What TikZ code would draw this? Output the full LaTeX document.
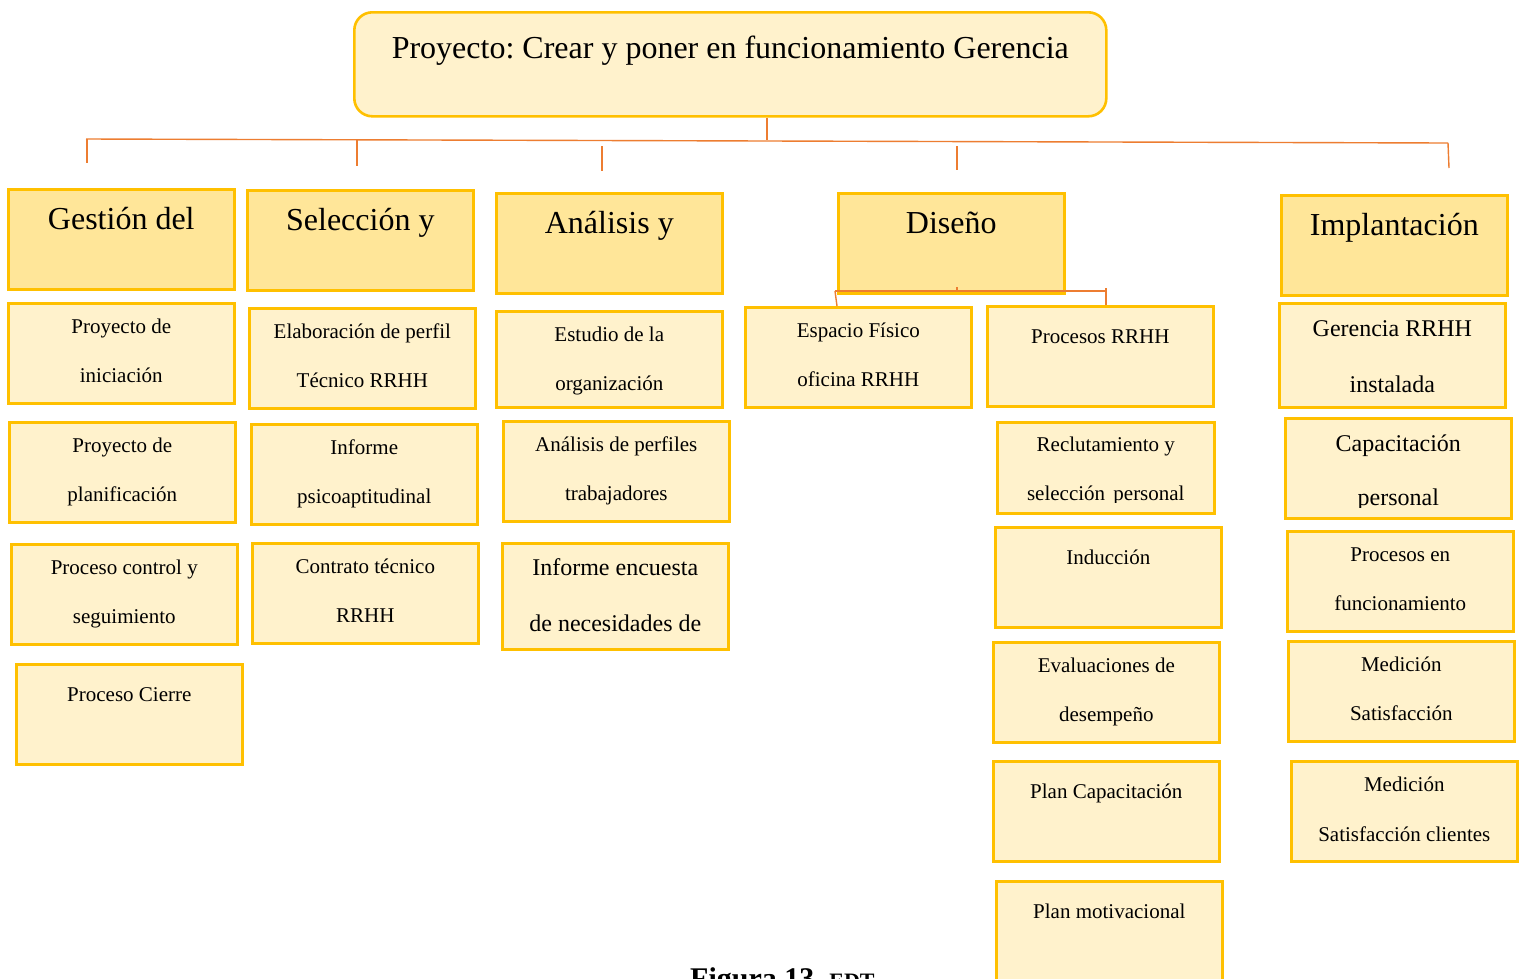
\documentclass[tikz,border=0pt]{standalone}
\usepackage{fontspec}
\setmainfont{Liberation Serif}
\frenchspacing

\definecolor{gold}{HTML}{FFC000}
\definecolor{paleyellow}{HTML}{FFF2CC}
\definecolor{headyellow}{HTML}{FFE699}
\definecolor{linkorange}{HTML}{ED7D31}

\tikzset{
  wbsbox/.style={draw=gold, line width=2.6pt, anchor=north west, inner sep=0pt},
  leafbox/.style={wbsbox, fill=paleyellow},
  headbox/.style={wbsbox, fill=headyellow, minimum width=226pt, minimum height=100pt},
  wbssmall/.style={font=\fontsize{21}{25}\selectfont, anchor=base, inner sep=0pt},
  wbslarge/.style={font=\fontsize{24}{28}\selectfont, anchor=base, inner sep=0pt},
  headtext/.style={font=\fontsize{32}{36}\selectfont, anchor=base, inner sep=0pt},
  link/.style={draw=linkorange, line width=1.4pt},
}

% two-line work package: name, (x,y), width, height, text style, line 1, shift 1, line 2, shift 2
\newcommand\wbstwo[9]{%
  \node[leafbox, minimum width=#3pt, minimum height=#4pt] (#1) at #2 {};
  \node[#5] (#1-a) at ([yshift=-#7pt]#1.north) {#6};
  \node[#5] (#1-b) at ([yshift=-#9pt]#1.north) {#8};
}
% one-line work package: name, (x,y), width, height, text
\newcommand\wbsone[5]{%
  \node[leafbox, minimum width=#3pt, minimum height=#4pt] (#1) at #2 {};
  \node[wbssmall] (#1-a) at ([yshift=-38pt]#1.north) {#5};
}
% level-one heading: name, (x,y), text
\newcommand\wbshead[3]{%
  \node[headbox] (#1) at #2 {};
  \node[headtext] (#1-t) at ([yshift=-41pt]#1.north) {#3};
}

\begin{document}
\begin{tikzpicture}[x=1pt,y=-1pt]
\clip (0,0) rectangle (1523,978);
\fill[white] (0,0) rectangle (1523,978);

% project root
\node[draw=gold, fill=paleyellow, line width=2.6pt, rounded corners=18pt,
      anchor=north west, minimum width=752pt, minimum height=104pt, inner sep=0pt]
      (root) at (353,11) {};
\node[headtext] (root-t) at ([yshift=-47pt]root.north)
      {Proyecto: Crear y poner en funcionamiento Gerencia};

% main bus
\coordinate (busM) at (767,140);
\coordinate (busL) at (86,139);
\coordinate (busR) at (1448,143);
\draw[link] (root.south -| busM) -- (busM);
\draw[link] (busL) -- (busR);
\coordinate (tA0) at (87,139);   \coordinate (tA1) at (87,163);
\coordinate (tB0) at (357,140);  \coordinate (tB1) at (357,166);
\coordinate (tC0) at (602,146);  \coordinate (tC1) at (602,171);
\coordinate (tD0) at (957,146);  \coordinate (tD1) at (957,170);
\coordinate (tE0) at (1448,143); \coordinate (tE1) at (1449,168);
\draw[link] (tA0) -- (tA1);
\draw[link] (tB0) -- (tB1);
\draw[link] (tC0) -- (tC1);
\draw[link] (tD0) -- (tD1);
\draw[link] (tE0) -- (tE1);

% level one
\wbshead{gest}{(7,188)}{Gestión del}
\wbshead{sel}{(246,189)}{Selección y}
\wbshead{ana}{(495,192)}{Análisis y}
\wbshead{dis}{(837,192)}{Diseño}
\wbshead{imp}{(1280,194)}{Implantación}

% Gestión del proyecto
\wbstwo{g1}{(7,302)}{226}{100}{wbssmall}{Proyecto de}{31}{iniciación}{80}
\wbstwo{g2}{(8,421)}{226}{100}{wbssmall}{Proyecto de}{31}{planificación}{80}
\wbstwo{g3}{(10,543)}{226}{100}{wbssmall}{Proceso control y}{31}{seguimiento}{80}
\wbsone{g4}{(15,663)}{226}{100}{Proceso Cierre}

% Selección
\wbstwo{s1}{(248,307)}{226}{100}{wbssmall}{Elaboración de perfil}{31}{Técnico RRHH}{80}
\wbstwo{s2}{(250,423)}{226}{100}{wbssmall}{Informe}{31}{psicoaptitudinal}{80}
\wbstwo{s3}{(251,542)}{226}{100}{wbssmall}{Contrato técnico}{31}{RRHH}{80}

% Análisis
\wbstwo{a1}{(495,310)}{226}{96}{wbssmall}{Estudio de la}{31}{organización}{80}
\wbstwo{a2}{(502,420)}{226}{100}{wbssmall}{Análisis de perfiles}{31}{trabajadores}{80}
\wbstwo{a3}{(501,542)}{226}{106}{wbslarge}{Informe encuesta}{33}{de necesidades de}{89}

% Diseño
\wbstwo{d1}{(744,306)}{226}{100}{wbssmall}{Espacio Físico}{31}{oficina RRHH}{80}
\wbsone{d2}{(986,305)}{226}{100}{Procesos RRHH}
\node[leafbox, minimum width=217pt, minimum height=91pt] (d3) at (996,421) {};
\begin{scope}
  \clip (d3.north west) rectangle ([yshift=12pt]d3.south east);
  \node[wbssmall] (d3-a) at ([yshift=-30pt]d3.north) {Reclutamiento y};
  \node[wbssmall] (d3-b) at ([yshift=-79pt]d3.north) {selección\hspace{3pt} personal};
\end{scope}
\wbsone{d4}{(994,526)}{226}{100}{Inducción}
\wbstwo{d5}{(992,641)}{226}{100}{wbssmall}{Evaluaciones de}{31}{desempeño}{80}
\wbsone{d6}{(992,760)}{226}{100}{Plan Capacitación}
\wbsone{d7}{(995,880)}{226}{110}{Plan motivacional}

% Diseño sub-bus
\coordinate (dbL) at (835,291);
\coordinate (dbR) at (1106,291);
\coordinate (dbT) at (957,287);
\coordinate (dbA) at (837,306);
\coordinate (dbB0) at (1106,288);
\coordinate (dbB1) at (1106,305);
\draw[link] (dbL) -- (dbR);
\draw[link] (dbT) -- (dbT |- dbL);
\draw[link] (dbL) -- (dbA);
\draw[link] (dbB0) -- (dbB1);

% Implantación
\wbstwo{i1}{(1278,302)}{226}{104}{wbslarge}{Gerencia RRHH}{34}{instalada}{90}
\node[leafbox, minimum width=226pt, minimum height=100pt] (i2) at (1284,417) {};
\begin{scope}
  \clip (i2.north west) rectangle ([yshift=12pt]i2.south east);
  \node[wbslarge] (i2-a) at ([yshift=-34pt]i2.north) {Capacitación};
  \node[wbslarge] (i2-b) at ([yshift=-88pt]i2.north) {personal};
\end{scope}
\wbstwo{i3}{(1286,530)}{226}{100}{wbssmall}{Procesos en}{31}{funcionamiento}{80}
\wbstwo{i4}{(1287,640)}{226}{100}{wbssmall}{Medición}{31}{Satisfacción}{80}
\wbstwo{i5}{(1290,760)}{226}{100}{wbssmall}{Medición}{31}{Satisfacción clientes}{81}

% caption
\node[anchor=base west, inner sep=0pt] (caption) at (690,988)
  {\bfseries\fontsize{30}{32}\selectfont Figura 13.\ {\fontsize{22}{24}\selectfont EDT}};
\end{tikzpicture}
\end{document}
